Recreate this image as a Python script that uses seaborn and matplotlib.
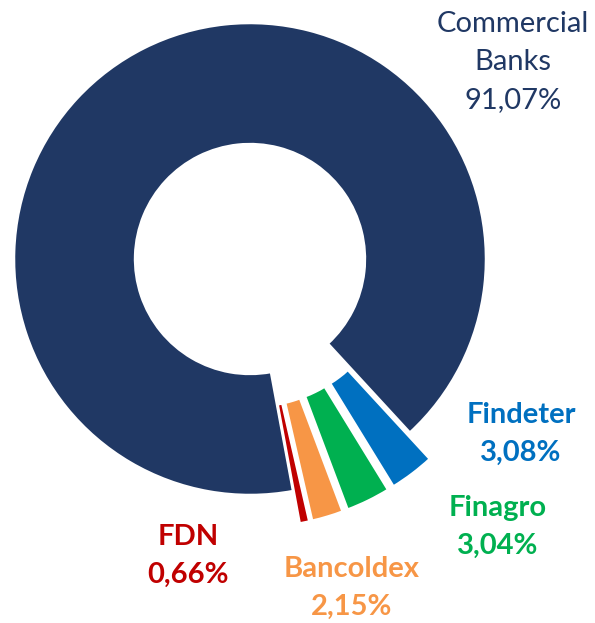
import matplotlib.pyplot as plt
import seaborn as sns

categories = ["Commercial\nBanks", "Findeter", "Finagro", "Bancoldex", "FDN"]
shares = [91.07, 3.08, 3.04, 2.15, 0.66]
colors = ["#203864", "#0070C0", "#00B050", "#F79646", "#C00000"]
label_colors = ["#203864", "#0070C0", "#00B050", "#F79646", "#C00000"]
explode = [0, 0.14, 0.14, 0.14, 0.14]

# label centres in pixels (x, y from top)
label_pos = [(513, 62), (521, 434), (498, 527), (352, 588), (188, 556)]

sns.set_theme(style="white")
plt.rcParams["font.family"] = ["Lato", "DejaVu Sans"]

W, H = 595, 623
fig = plt.figure(figsize=(W / 100, H / 100), dpi=100)
ax = fig.add_axes([0, 0, 1, 1])

cx, cy, R = 250, 259, 236
ax.pie(shares, colors=colors, explode=explode, startangle=280.5,
       counterclock=False, radius=1,
       wedgeprops=dict(width=0.513, edgecolor="white", linewidth=1.8))
ax.set_xlim(-cx / R, (W - cx) / R)
ax.set_ylim((cy - H) / R, cy / R)
ax.set_aspect("equal")
ax.axis("off")

for i, (name, val) in enumerate(zip(categories, shares)):
    txt = name + "\n" + f"{val:.2f}".replace(".", ",") + "%"
    px, py = label_pos[i]
    fig.text(px / W, 1 - py / H, txt, ha="center", va="center",
             color=label_colors[i], fontsize=21,
             fontweight="normal" if i == 0 else "bold",
             linespacing=1.55)

plt.savefig("out.png", dpi=100)
